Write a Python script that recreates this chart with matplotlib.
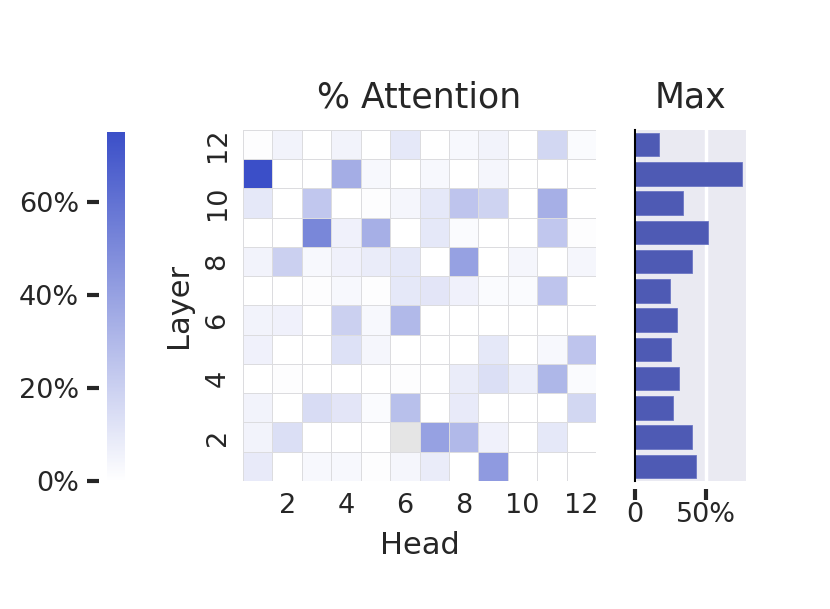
import numpy as np
import matplotlib.pyplot as plt
from matplotlib.colors import LinearSegmentedColormap
from matplotlib.ticker import FuncFormatter

heads = np.arange(1, 13)
layers = np.arange(1, 13)

# attention share per (layer, head); rows = layer 1..12, cols = head 1..12
layer1 = [0.09, 0.00, 0.03, 0.03, 0.01, 0.04, 0.08, 0.00, 0.43, 0.00, 0.00, 0.00]
layer2 = [0.05, 0.14, 0.00, 0.00, 0.00, np.nan, 0.40, 0.30, 0.06, 0.00, 0.10, 0.00]
layer3 = [0.05, 0.00, 0.15, 0.11, 0.02, 0.27, 0.00, 0.09, 0.00, 0.00, 0.00, 0.17]
layer4 = [0.00, 0.01, 0.00, 0.00, 0.00, 0.01, 0.00, 0.08, 0.14, 0.07, 0.31, 0.02]
layer5 = [0.06, 0.00, 0.00, 0.13, 0.04, 0.00, 0.00, 0.00, 0.10, 0.00, 0.03, 0.25]
layer6 = [0.05, 0.06, 0.00, 0.20, 0.03, 0.30, 0.00, 0.00, 0.00, 0.00, 0.00, 0.00]
layer7 = [0.00, 0.00, 0.01, 0.03, 0.01, 0.10, 0.11, 0.06, 0.02, 0.02, 0.25, 0.00]
layer8 = [0.05, 0.20, 0.03, 0.06, 0.08, 0.10, 0.00, 0.40, 0.00, 0.04, 0.00, 0.04]
layer9 = [0.00, 0.00, 0.51, 0.06, 0.34, 0.00, 0.10, 0.02, 0.00, 0.00, 0.24, 0.01]
layer10 = [0.10, 0.00, 0.24, 0.00, 0.01, 0.04, 0.10, 0.25, 0.19, 0.00, 0.34, 0.00]
layer11 = [0.75, 0.00, 0.00, 0.35, 0.03, 0.00, 0.03, 0.00, 0.04, 0.00, 0.00, 0.00]
layer12 = [0.01, 0.05, 0.00, 0.05, 0.00, 0.10, 0.00, 0.03, 0.05, 0.00, 0.17, 0.02]

att = np.array([layer1, layer2, layer3, layer4, layer5, layer6,
                layer7, layer8, layer9, layer10, layer11, layer12])

# max attention per layer, 1..12
layer_max = [0.43, 0.40, 0.27, 0.31, 0.25, 0.295, 0.245, 0.40, 0.51, 0.34, 0.755, 0.172]

txt = '#262626'
plt.rcParams['font.family'] = 'DejaVu Sans'
plt.rcParams['text.color'] = txt
plt.rcParams['xtick.color'] = txt
plt.rcParams['ytick.color'] = txt
plt.rcParams['axes.labelcolor'] = txt

blue = '#3b4fc8'
cmap = LinearSegmentedColormap.from_list('att', ['#ffffff', blue])
cmap.set_bad('#e5e5e5')
vmax = 0.75

fig = plt.figure(figsize=(8.3, 6.09), dpi=100)
ax = fig.add_axes([0.2928, 0.2102, 0.4253, 0.5764])
bax = fig.add_axes([0.765, 0.2102, 0.1337, 0.5764])
cax = fig.add_axes([0.1289, 0.2102, 0.0217, 0.573])

# heatmap
mesh = ax.pcolormesh(np.arange(0.5, 13.5), np.arange(0.5, 13.5),
                     np.ma.masked_invalid(att), cmap=cmap, vmin=0, vmax=vmax,
                     edgecolor='#dcdcdf', linewidth=0.6)
ax.set_xlim(0.5, 12.5)
ax.set_ylim(0.5, 12.5)
ax.set_xticks(heads[1::2])
ax.set_yticks(layers[1::2])
ax.set_yticklabels([str(v) for v in layers[1::2]], rotation=90, va='center')
ax.tick_params(length=0, labelsize=19.5, pad=9)
for s in ax.spines.values():
    s.set_visible(False)
ax.set_xlabel('Head', fontsize=22, labelpad=8)
ax.set_ylabel('Layer', fontsize=22, labelpad=8)
ax.set_title('% Attention', fontsize=25, pad=16)

# colorbar
cb = fig.colorbar(mesh, cax=cax, ticks=[0, 0.2, 0.4, 0.6])
cb.outline.set_visible(False)
cax.yaxis.set_ticks_position('left')
cax.yaxis.set_major_formatter(FuncFormatter(lambda v, p: f'{v*100:.0f}%'))
cax.tick_params(length=9, width=3, labelsize=19.5, pad=5)
cax.spines['left'].set_position(('outward', 6))

# max bars
bax.set_facecolor('#eaeaf2')
bax.barh(layers, layer_max, height=0.8, color='#4e5ab4', edgecolor='#6c77c4', linewidth=0.6)
bax.set_xlim(0, 0.78)
bax.set_ylim(0.5, 12.5)
bax.set_xticks([0, 0.5])
bax.set_xticklabels(['0', '50%'])
bax.set_yticks([])
bax.xaxis.grid(True, color='white', linewidth=2.5)
bax.set_axisbelow(True)
for k in ['top', 'right', 'bottom']:
    bax.spines[k].set_visible(False)
bax.spines['left'].set_color('black')
bax.spines['left'].set_linewidth(1.5)
bax.spines['bottom'].set_position(('outward', 6))
bax.tick_params(axis='x', length=8, width=3, labelsize=19.5, pad=1)
bax.set_title('Max', fontsize=25, pad=16)

fig.savefig('out.png', dpi=100)
